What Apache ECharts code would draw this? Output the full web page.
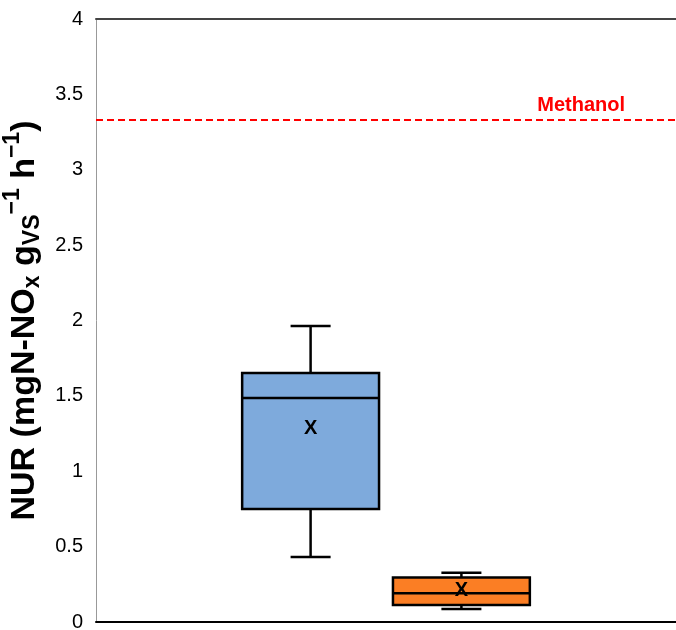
<!DOCTYPE html>
<html>
<head>
<meta charset="utf-8">
<script src="https://cdn.jsdelivr.net/npm/echarts@6/dist/echarts.min.js"></script>
<style>
html,body{margin:0;padding:0;background:#fff;}
#chart{width:676px;height:630px;}
</style>
</head>
<body>
<div id="chart"></div>
<script>
// ---- data ----
const categories = [''];
const seriesNames = ['Series 1', 'Series 2'];
// [min, Q1, median, Q3, max, mean]
const series1Stats = [0.431, 0.750, 1.486, 1.652, 1.963, 1.285];
const series2Stats = [0.086, 0.113, 0.190, 0.296, 0.327, 0.206];
const methanolValue = 3.33;
const methanolLabel = 'Methanol';
const yTicks = [0, 0.5, 1, 1.5, 2, 2.5, 3, 3.5, 4];

const colors = ['#7EAADC', '#FB7E24'];
const offsets = [-0.130, 0.130];
const FONT = "'Liberation Sans', sans-serif";

function makeRender(offsetFrac, color) {
  return function (params, api) {
    const cat = api.value(0);
    const band = api.size([1, 0])[0];
    const cx = api.coord([cat, 0])[0] + offsetFrac * band;
    const y = v => api.coord([cat, v])[1];
    const vmin = api.value(1), q1 = api.value(2), med = api.value(3),
          q3 = api.value(4), vmax = api.value(5), mean = api.value(6);
    const bw = band * 0.236;
    const cw = band * 0.069;
    const ls = { stroke: '#000', lineWidth: 2.5 };
    return {
      type: 'group',
      children: [
        { type: 'line', shape: { x1: cx, y1: y(vmax), x2: cx, y2: y(q3) }, style: ls },
        { type: 'line', shape: { x1: cx, y1: y(q1), x2: cx, y2: y(vmin) }, style: ls },
        { type: 'line', shape: { x1: cx - cw / 2, y1: y(vmax), x2: cx + cw / 2, y2: y(vmax) }, style: ls },
        { type: 'line', shape: { x1: cx - cw / 2, y1: y(vmin), x2: cx + cw / 2, y2: y(vmin) }, style: ls },
        { type: 'rect', shape: { x: cx - bw / 2, y: y(q3), width: bw, height: y(q1) - y(q3) },
          style: { fill: color, stroke: '#000', lineWidth: 2.5 } },
        { type: 'line', shape: { x1: cx - bw / 2, y1: y(med), x2: cx + bw / 2, y2: y(med) }, style: ls },
        { type: 'text', x: cx, y: y(mean),
          style: { text: 'X', fill: '#000', font: "bold 20px 'Liberation Sans'", align: 'center', verticalAlign: 'middle' } }
      ]
    };
  };
}

const statsList = [series1Stats, series2Stats];
const customSeries = statsList.map((s, i) => ({
  name: seriesNames[i],
  type: 'custom',
  xAxisIndex: 0,
  yAxisIndex: 0,
  renderItem: makeRender(offsets[i], colors[i]),
  encode: { x: 0, y: [1, 2, 3, 4, 5, 6] },
  data: [[0].concat(s)],
  z: 5
}));

customSeries[0].markLine = {
  symbol: 'none',
  silent: true,
  lineStyle: { color: '#FF0000', type: [7, 4], width: 2 },
  label: {
    show: true,
    position: 'insideEndTop',
    formatter: methanolLabel,
    color: '#FF0000',
    fontWeight: 'bold',
    fontSize: 20,
    fontFamily: "'Liberation Sans'",
    padding: [0, 46, 0, 0]
  },
  data: [{ yAxis: methanolValue }]
};

const chart = echarts.init(document.getElementById('chart'), null, { renderer: 'canvas' });
chart.setOption({
  backgroundColor: '#fff',
  animation: false,
  grid: { left: 96, right: 0, top: 19, bottom: 8, containLabel: false, outerBoundsMode: 'none' },
  xAxis: [
    {
      type: 'category', data: categories, position: 'bottom',
      axisLine: { show: true, lineStyle: { color: '#000', width: 2 } },
      axisTick: { show: false }, axisLabel: { show: false }, splitLine: { show: false }
    },
    {
      type: 'category', data: categories, position: 'top',
      axisLine: { show: true, lineStyle: { color: '#444', width: 2 } },
      axisTick: { show: false }, axisLabel: { show: false }, splitLine: { show: false }
    }
  ],
  yAxis: {
    type: 'value', min: yTicks[0], max: yTicks[yTicks.length - 1], interval: 0.5,
    axisLine: { show: true, lineStyle: { color: '#999', width: 1 } },
    axisTick: { show: false },
    splitLine: { show: false },
    axisLabel: {
      color: '#000', fontSize: 20, fontFamily: FONT, margin: 13,
      formatter: v => String(v)
    },
    name: '{b|NUR (mgN-NO}{sub|x}{b| g}{sub|VS}{sup|−1}{b| h}{sup|−1}{b|)}',
    nameLocation: 'middle',
    nameRotate: 90,
    nameGap: 27,
    nameTextStyle: {
      padding: [0, 0, 0, 0],
      rich: {
        b: { fontSize: 34, fontWeight: 'bold', fontFamily: "'Liberation Sans'", color: '#000' },
        sub: { fontSize: 23, fontWeight: 'bold', fontFamily: "'Liberation Sans'", color: '#000', padding: [17, 0, 0, 0] },
        sup: { fontSize: 23, fontWeight: 'bold', fontFamily: "'Liberation Sans'", color: '#000', padding: [0, 0, 23, 0] }
      }
    }
  },
  series: customSeries
});
</script>
</body>
</html>
